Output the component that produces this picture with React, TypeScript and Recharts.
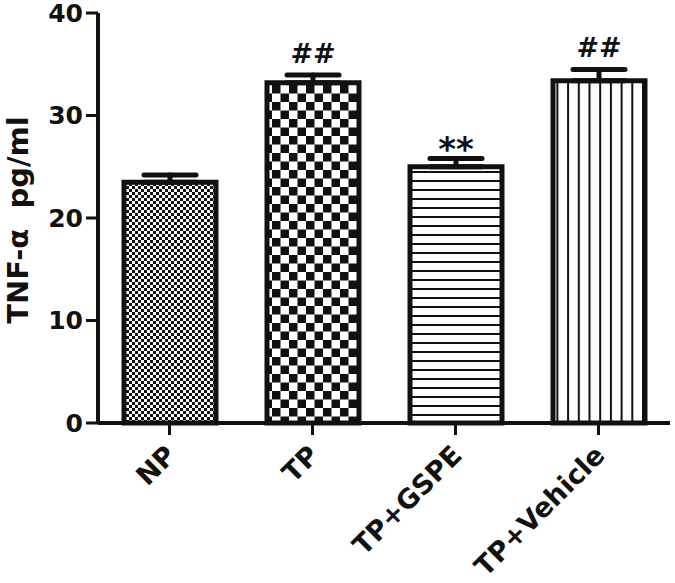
import React from 'react';
import { BarChart, Bar, XAxis, YAxis, ErrorBar, Cell, LabelList } from 'recharts';

const categories = ['NP', 'TP', 'TP+GSPE', 'TP+Vehicle'];
const means = [23.5, 33.2, 25.0, 33.4];
const sem = [0.7, 0.75, 0.8, 1.1];
const marks = ['', '##', '**', '##'];
const yTicks = [0, 10, 20, 30, 40];
const fills = ['url(#pNP)', 'url(#pTP)', 'url(#pGSPE)', 'url(#pVeh)'];

const data = categories.map((c, i) => ({
  name: c,
  value: means[i],
  err: [0, sem[i]],
  mark: marks[i],
}));

const FONT = '"DejaVu Sans", Arial, sans-serif';
const INK = '#111';

const XTick = (props: any) => {
  const { x, y, payload } = props;
  return (
    <text
      x={0}
      y={0}
      transform={`translate(${x + 8},${y + 20}) rotate(-45)`}
      textAnchor="end"
      fontFamily={FONT}
      fontWeight="bold"
      fontSize={27}
      fill={INK}
    >
      {payload.value}
    </text>
  );
};

const YTitle = (props: any) => {
  const vb = props.viewBox || { x: 0, y: 13, width: 98, height: 410 };
  const cx = vb.x + 28;
  const cy = vb.y + vb.height / 2 + 2;
  return (
    <text
      x={0}
      y={0}
      transform={`translate(${cx},${cy}) rotate(-90)`}
      textAnchor="middle"
      fontFamily={FONT}
      fontWeight="bold"
      fontSize={29}
      fill={INK}
      style={{ whiteSpace: 'pre' }}
    >
      TNF-α  pg/ml
    </text>
  );
};

const MarkLabel = (props: any) => {
  const { x, y, width, height, value, index } = props;
  if (!value) return null;
  const pxPerUnit = height / means[index];
  const capY = y - sem[index] * pxPerUnit;
  const isStar = String(value).includes('*');
  return (
    <text
      x={x + width / 2}
      y={isStar ? capY + 2 : capY - 12}
      textAnchor="middle"
      fontFamily={FONT}
      fontWeight="bold"
      fontSize={isStar ? 34 : 27}
      fill={INK}
    >
      {value}
    </text>
  );
};

export default function App() {
  return (
    <div style={{ position: 'absolute', left: 0, top: 0, width: 675, height: 583, background: '#fff' }}>
      <svg width={0} height={0} style={{ position: 'absolute' }}>
        <defs>
          <pattern id="pNP" patternUnits="userSpaceOnUse" width={6} height={6}>
            <rect width={6} height={6} fill="#fff" />
            <rect width={3} height={3} fill={INK} />
            <rect x={3} y={3} width={3} height={3} fill={INK} />
          </pattern>
          <pattern id="pTP" patternUnits="userSpaceOnUse" width={17} height={17}>
            <rect width={17} height={17} fill="#fff" />
            <rect width={8.5} height={8.5} fill={INK} />
            <rect x={8.5} y={8.5} width={8.5} height={8.5} fill={INK} />
          </pattern>
          <pattern id="pGSPE" patternUnits="userSpaceOnUse" width={10} height={9}>
            <rect width={10} height={9} fill="#fff" />
            <rect y={0} width={10} height={2} fill={INK} />
          </pattern>
          <pattern id="pVeh" patternUnits="userSpaceOnUse" width={10.7} height={10}>
            <rect width={10.7} height={10} fill="#fff" />
            <rect x={0} width={2} height={10} fill={INK} />
          </pattern>
        </defs>
      </svg>
      <BarChart
        width={675}
        height={583}
        data={data}
        margin={{ top: 13, right: 5, bottom: 0, left: 0 }}
      >
        <XAxis
          dataKey="name"
          height={160}
          interval={0}
          tick={<XTick />}
          tickSize={12}
          tickLine={{ stroke: INK, strokeWidth: 3 }}
          axisLine={{ stroke: INK, strokeWidth: 4 }}
        />
        <YAxis
          width={98}
          domain={[0, 40]}
          ticks={yTicks}
          interval={0}
          tickSize={12}
          tickMargin={3}
          tick={{ fontSize: 25, fontWeight: 'bold', fill: INK, fontFamily: FONT }}
          tickLine={{ stroke: INK, strokeWidth: 3 }}
          axisLine={{ stroke: INK, strokeWidth: 4 }}
          label={<YTitle />}
        />
        <Bar dataKey="value" barSize={92} stroke={INK} strokeWidth={5} isAnimationActive={false}>
          {data.map((d, i) => (
            <Cell key={d.name} fill={fills[i]} />
          ))}
          <ErrorBar dataKey="err" width={26} strokeWidth={5} stroke={INK} direction="y" strokeLinecap="round" isAnimationActive={false} />
          <LabelList dataKey="mark" content={<MarkLabel />} />
        </Bar>
      </BarChart>
    </div>
  );
}
